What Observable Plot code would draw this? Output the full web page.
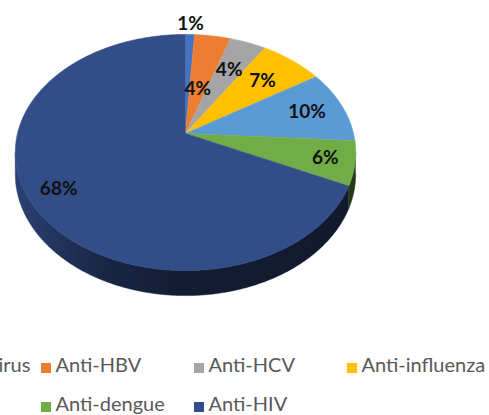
<!DOCTYPE html>
<html><head><meta charset="utf-8">
<script src="https://cdn.jsdelivr.net/npm/d3@7"></script>
<script src="https://cdn.jsdelivr.net/npm/@observablehq/plot@0.6"></script>
<style>html,body{margin:0;padding:0;overflow:hidden;background:#fff}</style>
</head><body><div id="chart"></div>
<script>
// ---- data ----
const categories = ["Anti-Zika virus", "Anti-HBV", "Anti-HCV", "Anti-influenza", "Anti-HSV", "Anti-dengue", "Anti-HIV"];
const values = [1, 4, 4, 7, 10, 6, 68];
const palette = ["#4472c4", "#ed7d31", "#a5a5a5", "#ffc000", "#5b9bd5", "#70ad47", "#324d87"];

// ---- layout (3D tilted pie, perspective) ----
const W = 489, H = 415;
const cx = 185, cy = 133, R = 168, RK = 115, P = 0.161, DEPTH = 21;
const labelRadius = [1.13, 0.42, 0.67, 0.7, 0.77, 0.83, 0.83];
const legendCol0 = -112, legendColStep = 153, legendRows = [365, 404], legendCols = 4;

function proj(a, f = 1, dz = 0) {
  const X = f * Math.sin(a), Z = f * Math.cos(a);
  const s = 1 / (1 + P * Z);
  return [cx + R * X * s, cy - RK * Z * s + DEPTH * s * dz];
}
function arc(a0, a1, f, dz) {
  const n = Math.max(2, Math.ceil(Math.abs(a1 - a0) / (Math.PI / 360)));
  return d3.range(n + 1).map(k => proj(a0 + (a1 - a0) * k / n, f, dz));
}

const total = d3.sum(values);
let acc = 0;
const slices = values.map((v, i) => {
  const a0 = acc / total * 2 * Math.PI; acc += v;
  const a1 = acc / total * 2 * Math.PI;
  return {i, cat: categories[i], v, a0, a1, mid: (a0 + a1) / 2};
});

// top faces
const topPts = [];
for (const s of slices) {
  const pts = [proj(0, 0, 0), ...arc(s.a0, s.a1, 1, 0)];
  pts.forEach(([x, y]) => topPts.push({slice: s.i, cat: s.cat, x, y}));
}
// visible side walls
const aL = Math.acos(-P), aR = 2 * Math.PI - aL;
const sideMarks = [];
for (const s of slices) {
  const b0 = Math.max(s.a0, aL), b1 = Math.min(s.a1, aR);
  if (b1 <= b0) continue;
  const pts = [...arc(b0, b1, 1, 0), ...arc(b1, b0, 1, 1)].map(([x, y]) => ({x, y}));
  sideMarks.push(Plot.line(pts, {x: "x", y: "y", fill: `url(#side-${s.i})`, stroke: `url(#side-${s.i})`, strokeWidth: 0.5}));
}
// shadow silhouette
const shadowPts = [...arc(aR - 2 * Math.PI, aL, 1.01, 0), ...arc(aL, aR, 1.01, 1.15)].map(([x, y]) => ({x, y: y + 3}));

// labels
const labelData = slices.map(s => {
  const [x, y] = proj(s.mid, labelRadius[s.i], 0);
  return {x, y, text: s.v + "%"};
});
// legend
const legendData = categories.map((c, i) => ({
  cat: c,
  x: legendCol0 + (i % legendCols) * legendColStep,
  y: legendRows[Math.floor(i / legendCols)]
}));

const plot = Plot.plot({
  width: W, height: H, margin: 0,
  style: {fontFamily: "Lato, 'Open Sans', sans-serif", background: "#fff", overflow: "hidden"},
  x: {domain: [0, W], range: [0, W], axis: null},
  y: {domain: [0, H], range: [0, H], axis: null},
  color: {domain: categories, range: palette},
  marks: [
    Plot.line(shadowPts, {x: "x", y: "y", fill: "#bcbcbc", stroke: "#c8c8c8", strokeWidth: 2, ariaLabel: "shadow"}),
    ...sideMarks,
    Plot.line(topPts, {x: "x", y: "y", z: "slice", fill: "cat", stroke: "cat", strokeWidth: 0.6}),
    Plot.text(labelData, {x: "x", y: "y", text: "text", fontSize: 19, fontWeight: "bold", fill: "#111"}),
    Plot.rect(legendData, {x1: d => d.x, x2: d => d.x + 10, y1: d => d.y - 2, y2: d => d.y + 8, fill: "cat"}),
    Plot.text(legendData, {x: d => d.x + 14, y: "y", text: "cat", textAnchor: "start", fontSize: 20, fill: "#595959"})
  ]
});

// gradients for side walls + blur filter for the shadow
const defs = d3.select(plot).insert("defs", ":first-child");
for (const s of slices) {
  const base = d3.rgb(palette[s.i]);
  const g = defs.append("linearGradient").attr("id", `side-${s.i}`)
    .attr("gradientUnits", "userSpaceOnUse").attr("x1", cx - R).attr("x2", cx + R).attr("y1", 0).attr("y2", 0);
  [[0, 0.5], [0.25, 1.9], [0.5, 2.8], [1, 3.1]].forEach(([o, k]) =>
    g.append("stop").attr("offset", o).attr("stop-color", base.darker(k).formatHex()));
}
defs.append("filter").attr("id", "blur").attr("x", "-10%").attr("y", "-10%").attr("width", "120%").attr("height", "120%")
  .append("feGaussianBlur").attr("stdDeviation", 1.6);
d3.select(plot).select('[aria-label="shadow"]').attr("filter", "url(#blur)");

document.getElementById("chart").appendChild(plot);
</script>
</body></html>
